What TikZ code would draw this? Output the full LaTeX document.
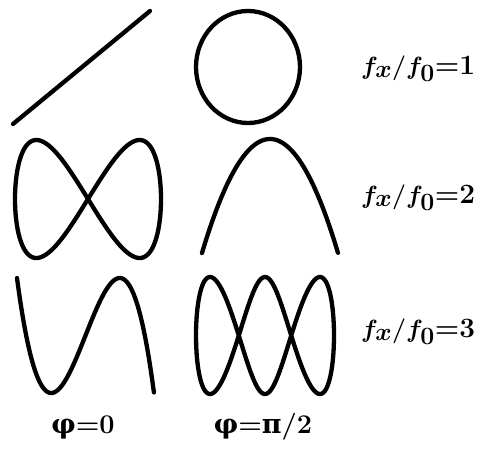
\documentclass[tikz,border=0pt]{standalone}
\usepackage{fontspec}
\newfontfamily\grk{DejaVu Serif}
\DeclareMathSizes{28}{28}{23}{18}
\begin{document}
\begin{tikzpicture}[x=1pt,y=-1pt,
  curve/.style={line width=4.3pt,line cap=round,line join=round},
  ratio/.style={anchor=base west,inner sep=0pt,font=\fontsize{28}{30}\selectfont\bfseries\boldmath},
  phase/.style={anchor=base,inner sep=0pt,font=\fontsize{27}{29}\selectfont\bfseries}]
\useasboundingbox (0,0) rectangle (479,450);
% fx/f0 = 1
\draw[curve] (13,124) -- (150,11);
\draw[curve] (248,67) ellipse[x radius=52,y radius=56];
% fx/f0 = 2
\draw[curve] plot[domain=0:360,samples=181] ({88+73*sin(\x)},{199-59*sin(2*\x)}) -- cycle;
\draw[curve] plot[domain=-1:1,samples=101] ({270+68*\x},{196-57*(1-2*\x*\x)});
% fx/f0 = 3
\draw[curve] plot[domain=-1:1,samples=101] ({85.5+68.5*\x},{335.5-57.5*(3*\x-4*\x*\x*\x)});
\draw[curve] plot[domain=0:360,samples=241]
  ({265+69*sin(\x)*(0.68+0.32*sin(\x)*sin(\x))},{335.5-58.5*cos(3*\x)}) -- cycle;
\foreach \k/\yy in {1/74,2/203,3/337}
  \node[ratio] (ratio\k) at (361,\yy) {$f_x/f_0$=\k};
\node[phase] (phi0) at (83,433) {{\grk φ}=0};
\node[phase] (phi90) at (263,433) {{\grk φ}={\grk π}/2};
\end{tikzpicture}
\end{document}
